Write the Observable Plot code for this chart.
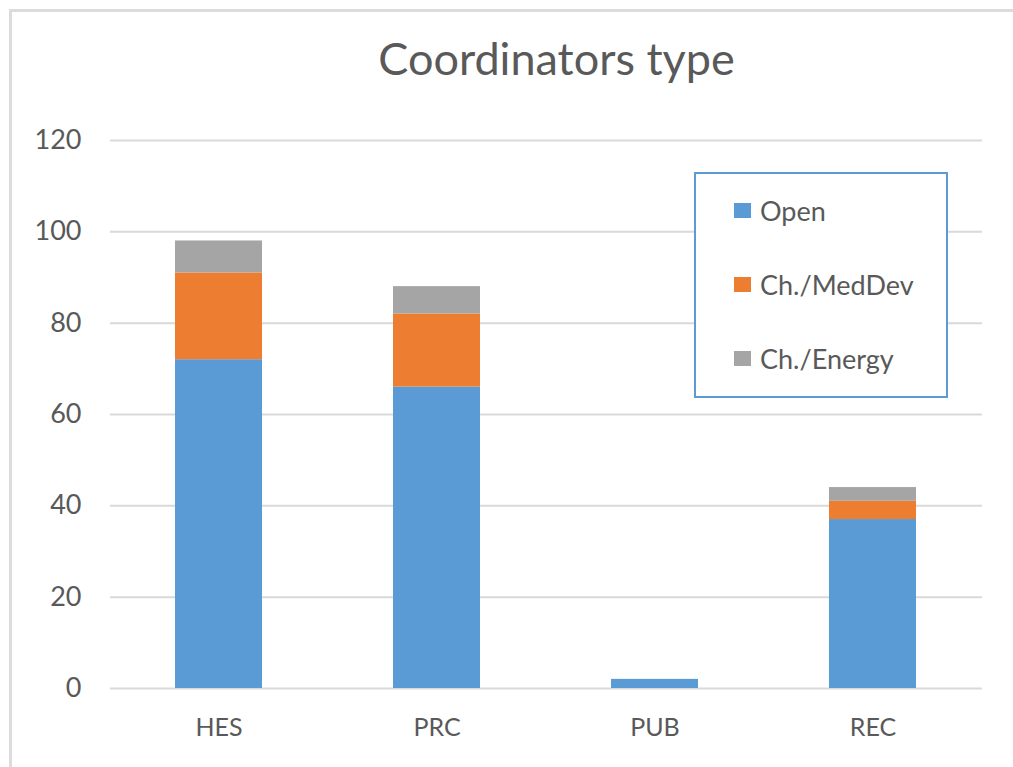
<!DOCTYPE html>
<html>
<head>
<meta charset="utf-8">
<script src="https://cdn.jsdelivr.net/npm/d3@7"></script>
<script src="https://cdn.jsdelivr.net/npm/@observablehq/plot@0.6"></script>
<style>
  html, body { margin: 0; padding: 0; background: #fff; }
  #wrap { position: relative; width: 1013px; height: 767px; overflow: hidden; font-family: Lato, "Open Sans", sans-serif; color: #595959; }
  #frameTop { position: absolute; left: 9px; top: 9px; width: 1004px; height: 3px; background: #dcdcdc; }
  #frameLeft { position: absolute; left: 9px; top: 9px; width: 3px; height: 758px; background: #dcdcdc; }
  #title { position: absolute; left: 0; width: 1013px; top: 36px; text-align: center; font-size: 45px; line-height: 45px; padding-left: 100px; box-sizing: border-box; }
  #chart { position: absolute; left: 0; top: 0; }
  #legend { position: absolute; left: 694px; top: 172px; width: 250px; height: 222px; border: 2px solid #5b9bd5; background: #fff; }
  .item { position: absolute; left: 38px; font-size: 27px; display: flex; align-items: center; white-space: nowrap; }
  .sw { width: 17px; height: 15px; margin-right: 9px; }
</style>
</head>
<body>
<div id="wrap">
  <div id="frameTop"></div>
  <div id="frameLeft"></div>
  <div id="chart"></div>
  <div id="title">Coordinators type</div>
  <div id="legend"></div>
</div>
<script>
const categories = ["HES", "PRC", "PUB", "REC"];
const seriesNames = ["Open", "Ch./MedDev", "Ch./Energy"];
const seriesColors = ["#5b9bd5", "#ed7d31", "#a5a5a5"];
const openValues = [72, 66, 2, 37];
const medDevValues = [19, 16, 0, 4];
const energyValues = [7, 6, 0, 3];
const yTicks = [0, 20, 40, 60, 80, 100, 120];

const seriesValues = [openValues, medDevValues, energyValues];
const data = [];
seriesNames.forEach((s, si) => {
  categories.forEach((c, ci) => {
    data.push({category: c, series: s, value: seriesValues[si][ci]});
  });
});

const chart = Plot.plot({
  width: 1013,
  height: 767,
  marginLeft: 110,
  marginRight: 31,
  marginTop: 140,
  marginBottom: 79,
  style: {fontFamily: "Lato, 'Open Sans', sans-serif", color: "#595959", background: "transparent"},
  x: {domain: categories, paddingInner: 0.6, paddingOuter: 0.3, label: null, tickSize: 0, tickPadding: 30},
  y: {domain: [0, 120], ticks: yTicks, label: null, tickSize: 0, tickPadding: 28},
  color: {domain: seriesNames, range: seriesColors},
  marks: [
    Plot.gridY(yTicks, {stroke: "#d9d9d9", strokeOpacity: 1, strokeWidth: 2}),
    Plot.barY(data, {x: "category", y: "value", fill: "series", order: seriesNames}),
    Plot.axisY({ticks: yTicks, tickSize: 0, tickPadding: 29, fontSize: 27, fill: "#595959"}),
    Plot.axisX({tickSize: 0, tickPadding: 30, fontSize: 25, fill: "#595959"})
  ]
});
document.getElementById("chart").appendChild(chart);

const legend = document.getElementById("legend");
const tops = [20, 94, 168];
seriesNames.forEach((s, i) => {
  const d = document.createElement("div");
  d.className = "item";
  d.style.top = tops[i] + "px";
  d.innerHTML = `<span class="sw" style="background:${seriesColors[i]}"></span><span>${s}</span>`;
  legend.appendChild(d);
});
</script>
</body>
</html>
